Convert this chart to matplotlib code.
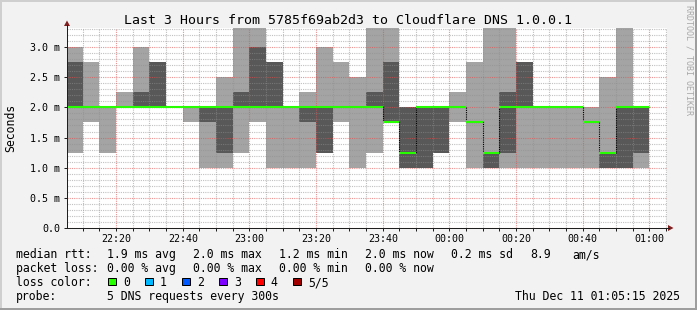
import matplotlib
matplotlib.use("Agg")
import matplotlib.pyplot as plt
from matplotlib.patches import Rectangle, Polygon
from matplotlib.lines import Line2D
from matplotlib.ticker import MultipleLocator, FixedLocator, FixedFormatter
import matplotlib.transforms as mtransforms

plt.rcParams['font.family'] = ['DejaVu Sans Mono']

W, H = 697, 310

# ---------------- data ----------------
title = "Last 3 Hours from 5785f69ab2d3 to Cloudflare DNS 1.0.0.1"
window_start = "22:05:15"
window_end = "01:05:15"
step_minutes = 5

slot_starts = ["22:05", "22:10", "22:15", "22:20", "22:25", "22:30", "22:35",
               "22:40", "22:45", "22:50", "22:55", "23:00", "23:05", "23:10",
               "23:15", "23:20", "23:25", "23:30", "23:35", "23:40", "23:45",
               "23:50", "23:55", "00:00", "00:05", "00:10", "00:15", "00:20",
               "00:25", "00:30", "00:35", "00:40", "00:45", "00:50", "00:55"]

# sorted pings (ms): ping1 = min, ping3 = median, ping5 = max
ping1 = [1.25, 1.75, 1.25, 2.0, 2.0, 2.0, 2.0, 1.75, 1.0, 1.0, 1.25, 1.75, 1.0, 1.0,
         1.0, 1.25, 1.75, 1.0, 1.25, 1.75, 1.0, 1.0, 1.25, 1.75, 1.0, 1.0, 1.0, 1.0,
         1.0, 1.0, 1.0, 1.0, 1.0, 1.0, 1.0]
ping2 = [2.0, 2.0, 2.0, 2.0, 2.0, 2.0, 2.0, 2.0, 1.75, 1.25, 2.0, 2.0, 2.0, 2.0,
         1.75, 1.25, 2.0, 2.0, 2.0, 1.75, 1.0, 1.0, 1.25, 2.0, 1.75, 1.0, 1.25, 2.0,
         2.0, 2.0, 2.0, 1.75, 1.0, 1.0, 1.25]
ping3 = [2.0, 2.0, 2.0, 2.0, 2.0, 2.0, 2.0, 2.0, 2.0, 2.0, 2.0, 2.0, 2.0, 2.0,
         2.0, 2.0, 2.0, 2.0, 2.0, 1.75, 1.25, 2.0, 2.0, 2.0, 1.75, 1.25, 2.0, 2.0,
         2.0, 2.0, 2.0, 1.75, 1.25, 2.0, 2.0]
ping4 = [2.75, 2.0, 2.0, 2.0, 2.25, 2.75, 2.0, 2.0, 2.0, 2.0, 2.25, 3.0, 2.75, 2.0,
         2.0, 2.0, 2.0, 2.0, 2.25, 2.75, 2.0, 2.0, 2.0, 2.0, 1.75, 1.25, 2.25, 2.75,
         2.0, 2.0, 2.0, 1.75, 1.25, 2.0, 2.0]
ping5 = [3.0, 2.75, 2.0, 2.25, 3.0, 2.75, 2.0, 2.0, 2.0, 2.5, 3.5, 3.5, 2.75, 2.0,
         2.25, 3.0, 2.75, 2.5, 3.5, 3.5, 2.0, 2.0, 2.0, 2.25, 2.75, 3.5, 3.5, 2.75,
         2.0, 2.0, 2.0, 2.0, 2.5, 3.5, 2.0]
loss = [0, 0, 0, 0, 0, 0, 0, 0, 0, 0, 0, 0, 0, 0, 0, 0, 0, 0, 0, 0, 0, 0, 0, 0,
        0, 0, 0, 0, 0, 0, 0, 0, 0, 0, 0]

xtick_labels = ["22:20", "22:40", "23:00", "23:20", "23:40", "00:00", "00:20",
                "00:40", "01:00"]
ytick_values = [0.0, 0.5, 1.0, 1.5, 2.0, 2.5, 3.0]
ytick_labels = ["0.0", "0.5 m", "1.0 m", "1.5 m", "2.0 m", "2.5 m", "3.0 m"]
y_top = 3.317

loss_labels = ["0", "1", "2", "3", "4", "5/5"]
loss_colors = ["#26ff00", "#00b8ff", "#0059ff", "#7e00ff", "#ff0000", "#a10000"]

rtt_stats = ["1.9 ms avg", "2.0 ms max", "1.2 ms min", "2.0 ms now", "0.2 ms sd", "8.9", "am/s"]
loss_stats = ["0.00 % avg", "0.00 % max", "0.00 % min", "0.00 % now"]
probe_text = "5 DNS requests every 300s"
date_text = "Thu Dec 11 01:05:15 2025"

smoke_outer = "#a4a4a4"
smoke_inner = "#585858"


def minutes(s):
    parts = [int(p) for p in s.split(":")]
    h, m = parts[0], parts[1]
    sec = parts[2] if len(parts) > 2 else 0
    t = h * 60 + m + sec / 60.0
    if h < 12:
        t += 24 * 60
    return t - 22 * 60


x0 = minutes(window_start)
x1 = minutes(window_end)
edges = [max(minutes(s), x0) for s in slot_starts] + [minutes(slot_starts[-1]) + step_minutes]

# ---------------- figure ----------------
fig = plt.figure(figsize=(W / 100, H / 100), dpi=100)
fig.patch.set_facecolor("#f2f2f2")
pix = mtransforms.Affine2D().scale(1.0 / W, -1.0 / H).translate(0, 1) + fig.transFigure

px_per_min = 3.3325
ax_left, ax_bottom_px, ax_top_px = 67, 228, 28
ax_w = (x1 - x0) * px_per_min
ax = fig.add_axes([ax_left / W, (H - ax_bottom_px) / H, ax_w / W, (ax_bottom_px - ax_top_px) / H])
ax.set_facecolor("white")
ax.set_xlim(x0, x1)
ax.set_ylim(0, y_top)

# smoke
ax.stairs(ping5, edges, baseline=ping1, fill=True, color=smoke_outer, lw=0, zorder=1)
ax.stairs(ping4, edges, baseline=ping2, fill=True, color=smoke_inner, lw=0, zorder=1.1)

# median line: dark step connectors, then loss-coloured segments
ax.stairs(ping3, edges, baseline=None, color="black", lw=0.8,
          linestyle=(0, (1, 1)), zorder=3)
ax.hlines(ping3, edges[:-1], edges[1:], colors=[loss_colors[l] for l in loss],
          lw=1.5, zorder=4)

# grid
ax.set_axisbelow(False)
ax.xaxis.set_major_locator(FixedLocator([minutes(t) for t in xtick_labels]))
ax.xaxis.set_major_formatter(FixedFormatter(xtick_labels))
ax.xaxis.set_minor_locator(MultipleLocator(step_minutes))
ax.yaxis.set_major_locator(FixedLocator(ytick_values))
ax.yaxis.set_major_formatter(FixedFormatter(ytick_labels))
ax.yaxis.set_minor_locator(MultipleLocator(0.1))
ax.grid(which="minor", color=(0.56, 0.56, 0.56), alpha=0.55, linestyle=(0, (1, 1)), lw=0.8)
ax.grid(which="major", color=(0.87, 0.31, 0.31), alpha=0.6, linestyle=(0, (1, 1)), lw=0.8)

for s in ["top", "right"]:
    ax.spines[s].set_visible(False)
for s in ["left", "bottom"]:
    ax.spines[s].set_color("#1f1f1f")
    ax.spines[s].set_linewidth(0.72)
    ax.spines[s].set_zorder(5)

ax.tick_params(axis="both", which="both", color="#1f1f1f", width=0.72,
               labelsize=7.18, labelcolor="black", direction="out")
ax.tick_params(axis="x", which="major", length=2.2, pad=2.0)
ax.tick_params(axis="x", which="minor", length=2.2)
ax.tick_params(axis="y", which="major", length=2.2, pad=2.8)
ax.tick_params(axis="y", which="minor", length=0)

# axis extensions and arrows
arrow_col = "#801f1f"
fig.add_artist(Line2D([67, 67], [28, 25], color="#1f1f1f", lw=0.72, transform=pix))
fig.add_artist(Line2D([ax_left + ax_w, 669], [228, 228], color="#1f1f1f", lw=0.72, transform=pix))
fig.add_artist(Polygon([[67, 20.5], [64, 26], [70, 26]], closed=True, color=arrow_col, transform=pix, lw=0))
fig.add_artist(Polygon([[673.5, 228], [668, 225], [668, 231]], closed=True, color=arrow_col, transform=pix, lw=0))

# 3d border
fig.add_artist(Rectangle((0, 0), W, 2, color="#cfcfcf", lw=0, transform=pix))
fig.add_artist(Rectangle((0, 0), 2, H, color="#cfcfcf", lw=0, transform=pix))
fig.add_artist(Rectangle((0, H - 2.5), W, 2.5, color="#9e9e9e", lw=0, transform=pix))
fig.add_artist(Rectangle((W - 2.5, 0), 2.5, H, color="#9e9e9e", lw=0, transform=pix))


def ptext(x, y, s, **kw):
    kw.setdefault("fontsize", 8.31)
    kw.setdefault("va", "baseline")
    kw.setdefault("ha", "left")
    fig.text(x, y, s, transform=pix, **kw)


ptext(347.7, 24, title, fontsize=9.54, ha="center")
ptext(11, 128, "Seconds", rotation=90, ha="center", va="center")
ptext(689, 60, "RRDTOOL / TOBI OETIKER", fontsize=6.0, rotation=270,
      ha="center", va="center", color="#a8a8a8")

# legend rows
ptext(16, 258, "median rtt:")
for xp, s in zip([107.3, 193.3, 279.3, 365.0, 451.0, 530.0, 572.0], rtt_stats):
    ptext(xp, 258, s)
ptext(16, 272, "packet loss:")
for xp, s in zip([107.3, 193.3, 279.3, 365.0], loss_stats):
    ptext(xp, 272, s)
ptext(16, 286, "loss color:")
box_x = [108.3, 145.3, 182.3, 219.3, 256.3, 293.3]
for bx, lab, col in zip(box_x, loss_labels, loss_colors):
    fig.add_artist(Rectangle((bx, 277.5), 7.5, 7.5, facecolor=col, edgecolor="black",
                             lw=0.72, transform=pix))
    ptext(bx + 14.5, 286, lab)
ptext(16, 300, "probe:")
ptext(107.3, 300, probe_text)
ptext(680, 300, date_text, ha="right")

fig.savefig("out.png", dpi=100, facecolor=fig.get_facecolor())
